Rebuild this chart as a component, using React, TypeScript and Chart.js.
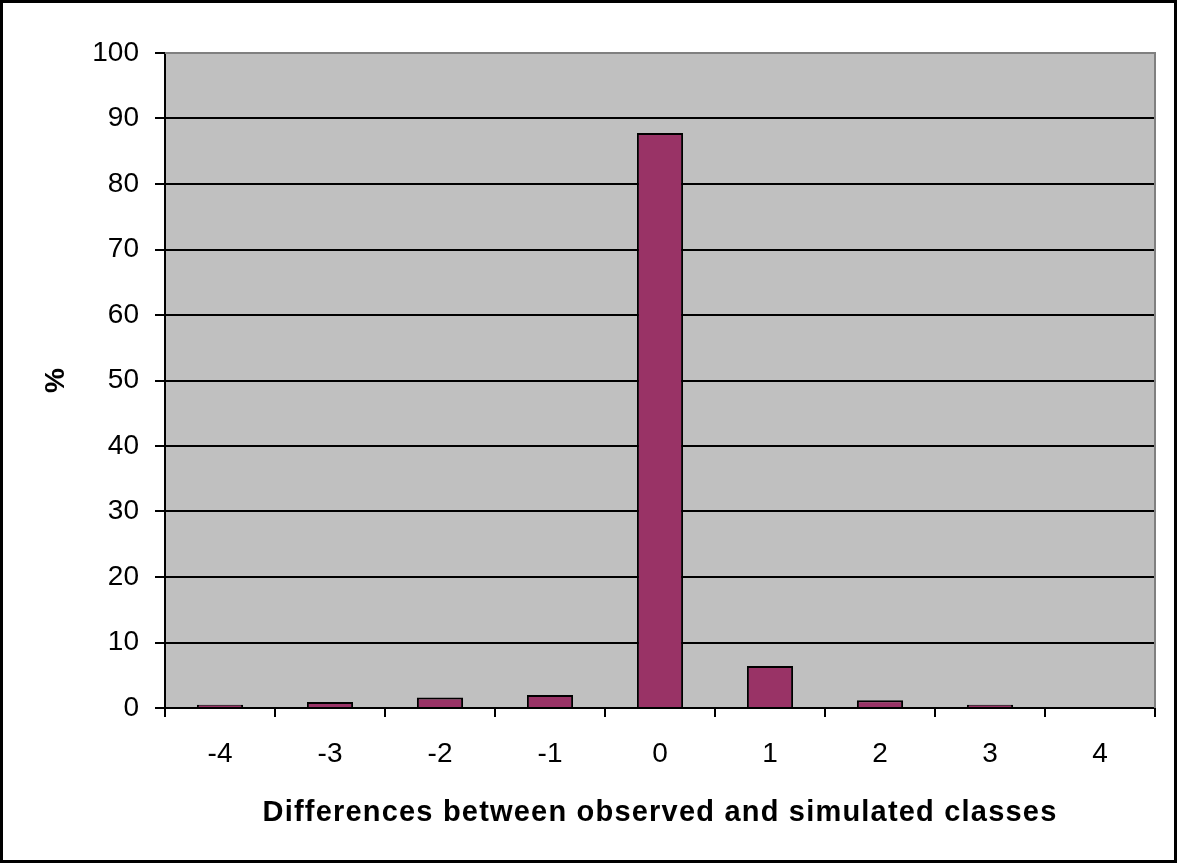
import React, { useEffect, useRef } from "react";
import { Chart, registerables } from "chart.js";

Chart.register(...registerables);

const categories = ["-4", "-3", "-2", "-1", "0", "1", "2", "3", "4"];
const percentValues = [0.5, 0.9, 1.6, 2.0, 87.8, 6.4, 1.2, 0.5, 0];
const xTitle = "Differences between observed and simulated classes";
const yTitle = "%";

const W = 1177;
const H = 863;
const FONT = "'Liberation Sans', Arial, sans-serif";

const framePlugin = {
  id: "frame",
  afterLayout(chart: any) {
    const xs = chart.scales && chart.scales.x;
    if (xs && !xs.__patched) {
      const orig = xs.drawTitle.bind(xs);
      xs.drawTitle = function () {
        const ctx = chart.ctx;
        const prev = ctx.letterSpacing;
        ctx.letterSpacing = "1.2px";
        orig();
        ctx.letterSpacing = prev || "0px";
      };
      xs.__patched = true;
    }
  },
  beforeDraw(chart: any) {
    const { ctx, chartArea } = chart;
    ctx.save();
    ctx.fillStyle = "#ffffff";
    ctx.fillRect(0, 0, chart.width, chart.height);
    ctx.fillStyle = "#c0c0c0";
    ctx.fillRect(chartArea.left, chartArea.top, chartArea.right - chartArea.left, chartArea.bottom - chartArea.top);
    ctx.restore();
  },
  afterDraw(chart: any) {
    const { ctx, chartArea } = chart;
    ctx.save();
    ctx.strokeStyle = "#808080";
    ctx.lineWidth = 2;
    ctx.beginPath();
    ctx.moveTo(chartArea.left, chartArea.top);
    ctx.lineTo(chartArea.right, chartArea.top);
    ctx.lineTo(chartArea.right, chartArea.bottom);
    ctx.stroke();
    ctx.strokeStyle = "#000000";
    ctx.lineWidth = 3;
    ctx.strokeRect(1.5, 1.5, chart.width - 3, chart.height - 3);
    ctx.restore();
  },
};

export default function App() {
  const ref = useRef<HTMLCanvasElement | null>(null);
  useEffect(() => {
    if (!ref.current) return;
    const chart = new Chart(ref.current, {
      type: "bar",
      data: {
        labels: categories,
        datasets: [
          {
            data: percentValues,
            backgroundColor: "#993366",
            borderColor: "#000000",
            borderWidth: 2,
            barPercentage: 0.42,
            categoryPercentage: 1,
          },
        ],
      },
      options: {
        responsive: false,
        animation: false,
        layout: { padding: { top: 53, right: 22, left: 0, bottom: 0 } },
        plugins: { legend: { display: false }, tooltip: { enabled: false } },
        scales: {
          x: {
            offset: true,
            grid: {
              offset: true,
              drawOnChartArea: false,
              drawTicks: true,
              tickLength: 9,
              color: "#000000",
              lineWidth: 2,
            },
            border: { display: true, color: "#000000", width: 2 },
            ticks: { color: "#000000", font: { family: FONT, size: 28 }, padding: 20 },
            title: {
              display: true,
              text: xTitle,
              color: "#000000",
              font: { family: FONT, size: 29, weight: "bold" },
              padding: { top: 0, bottom: 33 },
            },
            afterFit(scale: any) {
              scale.height = 155;
            },
          },
          y: {
            min: 0,
            max: 100,
            ticks: { stepSize: 10, color: "#000000", font: { family: FONT, size: 28 }, padding: 16 },
            grid: {
              color: (c: any) => (c.tick && c.tick.value === 100 ? "#808080" : "#000000"),
              lineWidth: 2,
              tickLength: 10,
              tickColor: "#000000",
            },
            border: { display: true, color: "#000000", width: 2 },
            title: {
              display: true,
              text: yTitle,
              color: "#000000",
              font: { family: FONT, size: 28, weight: "bold" },
              padding: { top: 39, bottom: 0 },
            },
            afterFit(scale: any) {
              scale.width = 165;
            },
          },
        },
      },
      plugins: [framePlugin],
    });
    return () => chart.destroy();
  }, []);
  return (
    <div style={{ position: "fixed", left: 0, top: 0, width: W, height: H, background: "#fff" }}>
      <canvas ref={ref} width={W} height={H} style={{ display: "block" }} />
    </div>
  );
}
